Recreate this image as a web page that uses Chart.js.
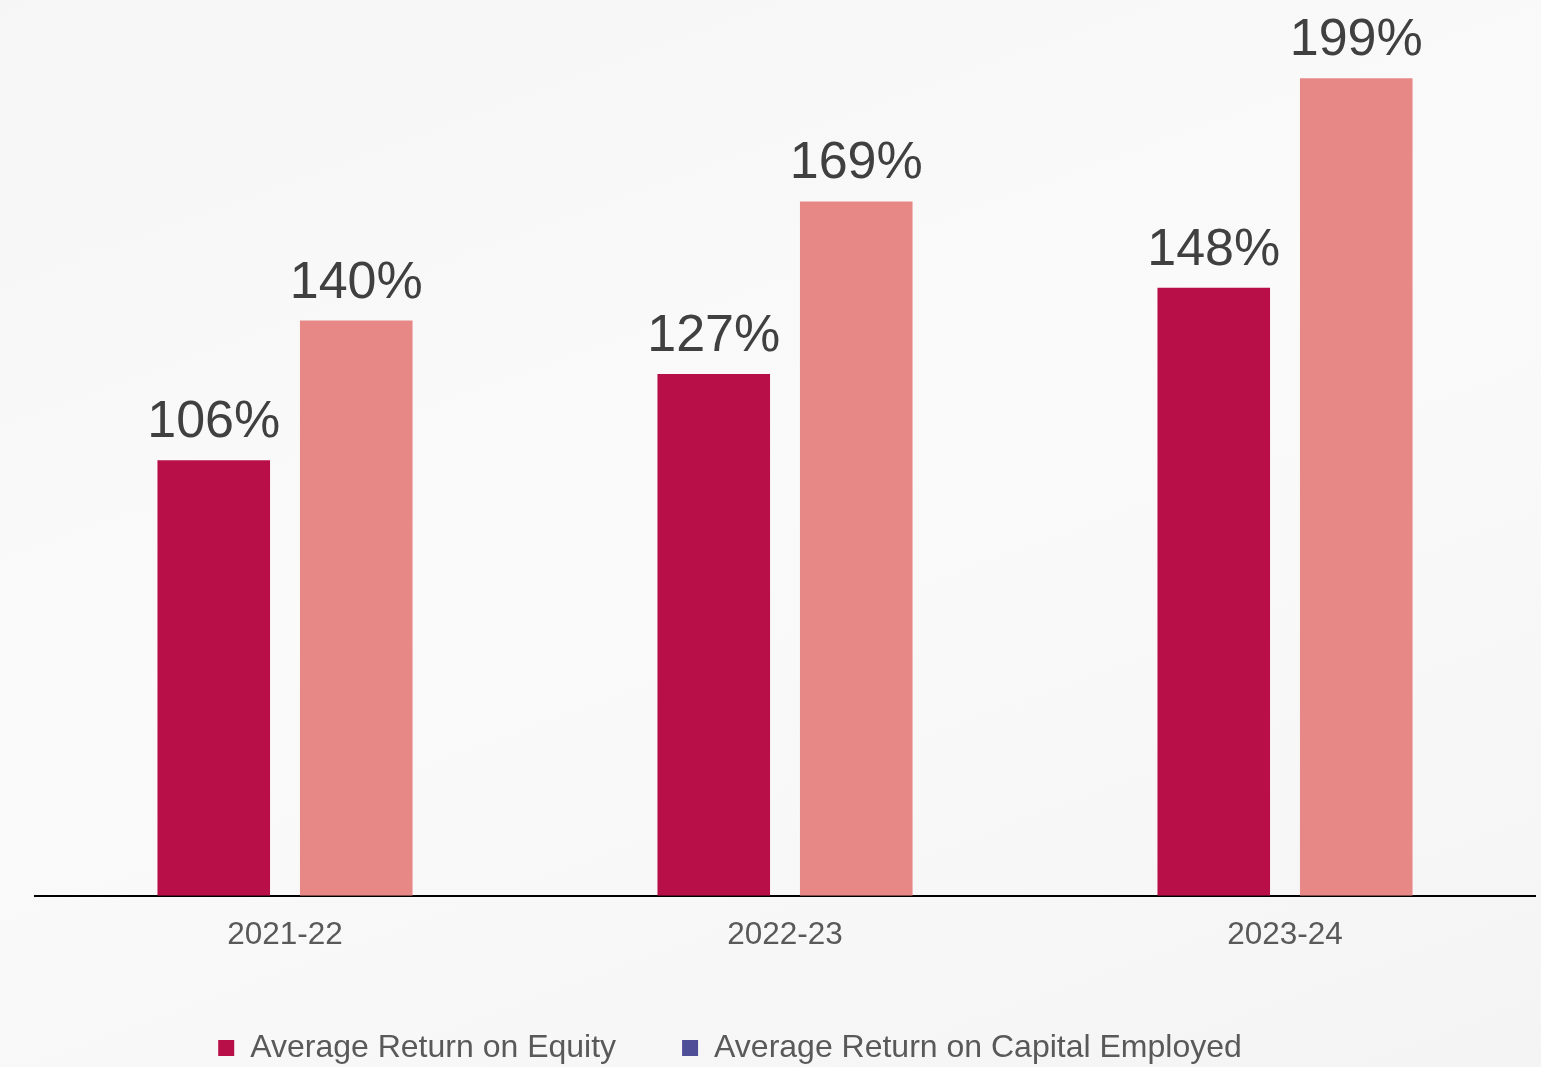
<!DOCTYPE html>
<html>
<head>
<meta charset="utf-8">
<script src="https://cdn.jsdelivr.net/npm/chart.js@4/dist/chart.umd.min.js"></script>
<style>
  html, body { margin: 0; padding: 0; }
  body {
    width: 1541px; height: 1067px; overflow: hidden;
    background: linear-gradient(160deg, #f6f6f6 0%, #fafafa 45%, #f8f8f8 70%, #f4f4f5 100%);
  }
  #wrap { position: relative; width: 1541px; height: 1067px; }
</style>
</head>
<body>
<div id="wrap"><canvas id="returns"></canvas></div>
<script>
const years = ["2021-22", "2022-23", "2023-24"];
const roe = [106, 127, 148];
const roce = [140, 169, 199];
const seriesNames = ["Average Return on Equity", "Average Return on Capital Employed"];
const barColors = ["#B80F48", "#E88886"];
const legendColors = ["#B80F48", "#4F4F97"];

// value labels above each bar
const barValues = {
  id: "barValues",
  afterDatasetsDraw(chart) {
    const ctx = chart.ctx;
    ctx.save();
    ctx.font = '52px "Liberation Sans", Arial, sans-serif';
    ctx.fillStyle = "#404040";
    ctx.textAlign = "center";
    ctx.textBaseline = "alphabetic";
    chart.data.datasets.forEach((ds, i) => {
      chart.getDatasetMeta(i).data.forEach((bar, j) => {
        ctx.fillText(ds.data[j] + "%", bar.x, bar.y - 23);
      });
    });
    ctx.restore();
  }
};

// nudge legend left
const legendShift = {
  id: "legendShift",
  afterLayout(chart) {
    chart.legend.left -= 55;
    chart.legend.right -= 55;
  }
};

new Chart(document.getElementById("returns"), {
  type: "bar",
  data: {
    labels: years,
    datasets: [
      { label: seriesNames[0], data: roe, backgroundColor: barColors[0] },
      { label: seriesNames[1], data: roce, backgroundColor: barColors[1] }
    ]
  },
  options: {
    responsive: true,
    maintainAspectRatio: false,
    animation: false,
    categoryPercentage: 0.57,
    barPercentage: 0.79,
    layout: { padding: { top: 33, left: 35, right: 6, bottom: -7 } },
    scales: {
      x: {
        grid: { display: false, drawTicks: false },
        border: { display: true, color: "#000", width: 2 },
        ticks: {
          color: "#595959",
          padding: 27,
          font: { family: '"Liberation Sans", Arial, sans-serif', size: 31.5, lineHeight: 0.8 }
        },
        afterFit(scale) {
          scale.height -= 9;
        }
      },
      y: { display: false, min: 0, max: 210 }
    },
    plugins: {
      tooltip: { enabled: false },
      legend: {
        position: "bottom",
        labels: {
          color: "#595959",
          boxWidth: 16,
          boxHeight: 16,
          padding: 66,
          font: { family: '"Liberation Sans", Arial, sans-serif', size: 32 },
          generateLabels(chart) {
            const items = Chart.defaults.plugins.legend.labels.generateLabels(chart);
            items.forEach((it, i) => {
              it.fillStyle = legendColors[i];
              it.strokeStyle = legendColors[i];
              it.lineWidth = 0;
            });
            return items;
          }
        }
      }
    }
  },
  plugins: [barValues, legendShift]
});
</script>
</body>
</html>
